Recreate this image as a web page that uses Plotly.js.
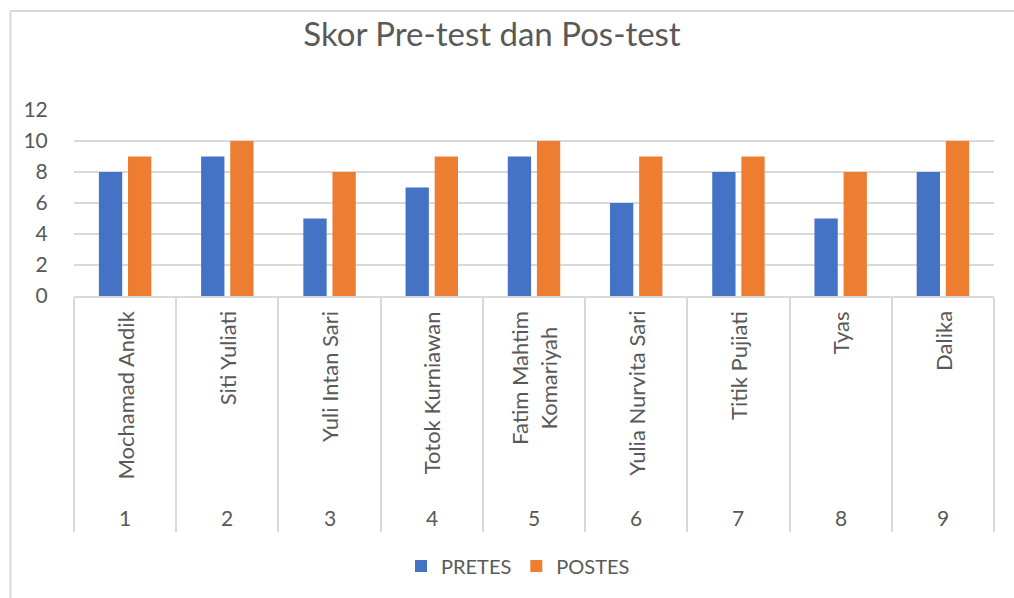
<!DOCTYPE html>
<html>
<head>
<meta charset="utf-8">
<script src="https://cdn.plot.ly/plotly-3.0.1.min.js"></script>
<style>html,body{margin:0;padding:0;background:#fff;}#chart{width:1014px;height:598px;}</style>
</head>
<body>
<div id="chart"></div>
<script>
const numbers = ["1","2","3","4","5","6","7","8","9"];
const names = ["Mochamad Andik","Siti Yuliati","Yuli Intan Sari","Totok Kurniawan","Fatim Mahtim<br>Komariyah","Yulia Nurvita Sari","Titik Pujiati","Tyas","Dalika"];
const pretes = [8,9,5,7,9,6,8,5,8];
const postes = [9,10,8,9,10,9,9,8,10];
const seriesNames = ["PRETES","POSTES"];
const yTicks = [0,2,4,6,8,10,12];

const FONT = "Lato, 'Open Sans', sans-serif";
const GREY = "#595959";

const traces = [
  {type:"bar", name:seriesNames[0], x:numbers, y:pretes, marker:{color:"#4472C4"}},
  {type:"bar", name:seriesNames[1], x:numbers, y:postes, marker:{color:"#ED7D31"}}
];

const annotations = [];
numbers.forEach((n,i)=>{
  annotations.push({xref:"x", yref:"paper", x:i, y:0, yshift:-13, yanchor:"top", xanchor:"center",
    text:names[i], textangle:-90, showarrow:false, align:"center",
    font:{family:FONT, size:22, color:GREY}});
  annotations.push({xref:"x", yref:"paper", x:i, y:0, yshift:-221, yanchor:"middle", xanchor:"center",
    text:n, showarrow:false, font:{family:FONT, size:21, color:GREY}});
});

const H = 186, B = 296;
const layout = {
  width:1014, height:598,
  margin:{l:73.5, r:20, t:110, b:302},
  paper_bgcolor:"#fff", plot_bgcolor:"#fff",
  font:{family:FONT, color:GREY},
  title:{text:"Skor Pre-test dan Pos-test", xref:"container", x:492/1014, xanchor:"center",
         yref:"container", y:1-34/598, yanchor:"middle", font:{family:FONT, size:33, color:GREY}},
  barmode:"group", bargap:0.43, bargroupgap:0.2,
  xaxis:{type:"category", showticklabels:false, showgrid:false, zeroline:false,
         showline:true, linecolor:"#d9d9d9", linewidth:2,
         ticks:"outside", tickson:"boundaries", ticklen:234, tickwidth:2, tickcolor:"#d9d9d9",
         fixedrange:true},
  yaxis:{range:[0,12], tickvals:yTicks, showgrid:true, gridcolor:"#d9d9d9", gridwidth:2,
         zeroline:false, showline:false, ticks:"outside", ticklen:21, tickcolor:"rgba(0,0,0,0)",
         tickfont:{family:FONT, size:21, color:GREY}, fixedrange:true},
  showlegend:true,
  legend:{orientation:"h", xref:"container", yref:"container", x:518/1014, xanchor:"center",
          y:1-566/598, yanchor:"middle", font:{family:FONT, size:20, color:GREY}, itemwidth:30},
  annotations:annotations,
  shapes:[{type:"rect", xref:"paper", yref:"paper",
           x0:(10-73.5)/920.5, x1:(1040-73.5)/920.5,
           y0:(B-640)/H, y1:(B-11)/H,
           line:{color:"#d9d9d9", width:2}, fillcolor:"rgba(0,0,0,0)", layer:"below"}]
};

Plotly.newPlot("chart", traces, layout, {displayModeBar:false, staticPlot:true});
</script>
</body>
</html>
